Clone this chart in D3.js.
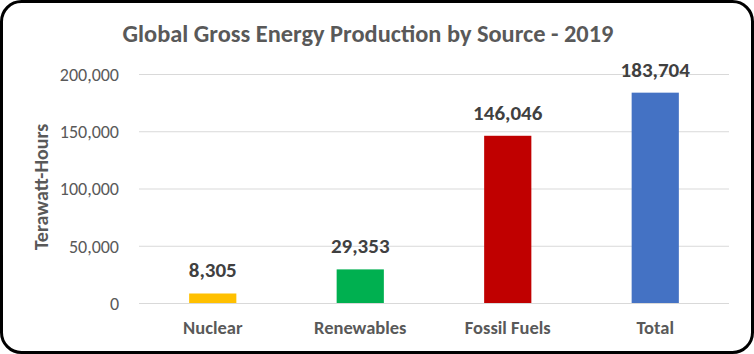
<!DOCTYPE html>
<html><head><meta charset="utf-8">
<script src="https://cdn.jsdelivr.net/npm/d3@7"></script>
<style>body{margin:0;background:#fff}svg{display:block}</style>
</head><body>
<script>
const categories = ["Nuclear", "Renewables", "Fossil Fuels", "Total"];
const values = [8305, 29353, 146046, 183704];
const colors = ["#FFC000", "#00B050", "#C00000", "#4472C4"];
const yTicks = [0, 50000, 100000, 150000, 200000];
const title = "Global Gross Energy Production by Source - 2019";
const yTitle = "Terawatt-Hours";

const W = 754, H = 354;
const font = "Carlito, Calibri, Lato, 'Open Sans', 'Liberation Sans', sans-serif";
const svg = d3.select("body").append("svg").attr("width", W).attr("height", H);

svg.append("rect").attr("x", 1.5).attr("y", 1.5).attr("width", W - 3).attr("height", H - 3)
  .attr("rx", 20).attr("ry", 20).attr("fill", "#fff").attr("stroke", "#000").attr("stroke-width", 3);

const x = d3.scaleBand().domain(categories).range([139, 729]).paddingInner(0.68).paddingOuter(0.34);
const y = d3.scaleLinear().domain([0, 200000]).range([303, 74]);

const g = svg.append("g");
g.selectAll("line.grid").data(yTicks).join("line").attr("class", "grid")
  .attr("x1", 139).attr("x2", 729).attr("y1", d => y(d) + 0.5).attr("y2", d => y(d) + 0.5)
  .attr("stroke", "#D9D9D9").attr("stroke-width", 1);

const yAxis = d3.axisLeft(y).tickValues(yTicks).tickFormat(d3.format(",")).tickSize(0).tickPadding(0);
const ya = svg.append("g").attr("transform", "translate(119,0)").call(yAxis);
ya.select(".domain").remove();
ya.selectAll("text").attr("font-family", font).attr("font-size", 18).attr("fill", "#595959").attr("dy", "0.36em");

g.selectAll("rect.bar").data(values).join("rect").attr("class", "bar")
  .attr("x", (d, i) => x(categories[i])).attr("width", x.bandwidth())
  .attr("y", d => y(d)).attr("height", d => y(0) - y(d))
  .attr("fill", (d, i) => colors[i]);

g.selectAll("text.val").data(values).join("text").attr("class", "val")
  .attr("x", (d, i) => x(categories[i]) + x.bandwidth() / 2).attr("y", d => y(d) - 16)
  .attr("text-anchor", "middle").attr("font-family", font).attr("font-weight", "bold")
  .attr("font-size", 21).attr("fill", "#404040").text(d => d3.format(",")(d));

const xAxis = d3.axisBottom(x).tickSize(0).tickPadding(0);
const xa = svg.append("g").attr("transform", "translate(0,334)").call(xAxis);
xa.select(".domain").remove();
xa.selectAll("text").attr("y", 0).attr("dy", 0).attr("font-family", font).attr("font-weight", "bold")
  .attr("font-size", 18.5).attr("fill", "#595959");

svg.append("text").attr("x", 368).attr("y", 42).attr("text-anchor", "middle")
  .attr("font-family", font).attr("font-weight", "bold").attr("font-size", 24.4).attr("fill", "#595959")
  .text(title);

svg.append("text").attr("transform", "translate(48,187) rotate(-90)").attr("text-anchor", "middle")
  .attr("font-family", font).attr("font-weight", "bold").attr("font-size", 20).attr("fill", "#595959")
  .text(yTitle);
</script>
</body></html>
